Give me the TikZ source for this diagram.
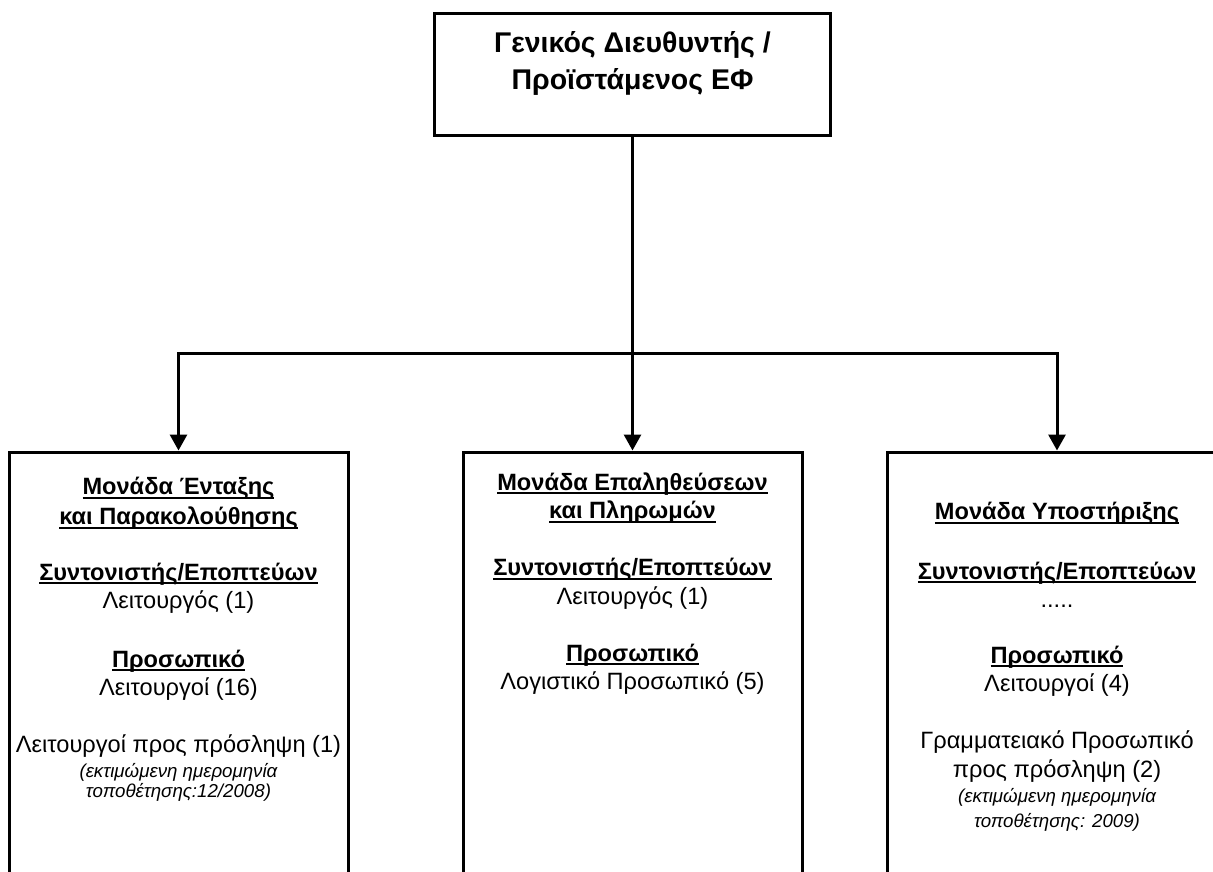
\documentclass[tikz,border=0pt]{standalone}
\usepackage{fontspec}
\setmainfont{Liberation Sans}
\usetikzlibrary{arrows.meta}
\newsavebox\hdbox
% bold heading with a solid underline below the baseline
\newcommand\hd[1]{\sbox\hdbox{\bfseries #1}\leavevmode\rlap{\rule[-4pt]{\wd\hdbox}{2pt}}\usebox\hdbox}
\newcommand\note[1]{{\fontsize{18.7}{22}\selectfont\itshape #1}}
\begin{document}
\begin{tikzpicture}[x=1pt,y=-1pt,
  unitbox/.style={draw,line width=3pt,inner sep=0pt,minimum width=339pt,minimum height=448pt},
  conn/.style={line width=3pt},
  arr/.style={conn,-{Triangle[width=17pt,length=16pt]}},
  body/.style={align=center,inner sep=0pt,anchor=north,font=\fontsize{23.6}{28.5}\selectfont},
  head/.style={align=center,inner sep=0pt,font=\bfseries\fontsize{28.5}{37}\selectfont}]
\useasboundingbox (0,0) rectangle (1213,872);
\clip (0,0) rectangle (1213,872);

% director box
\node[draw,line width=3pt,minimum width=396pt,minimum height=122pt] (dir) at (632.5,75) {};
\node[head] (dirtext) at (632.5,63) {Γενικός Διευθυντής /\\Προϊστάμενος ΕΦ};

% unit boxes (they run past the lower edge)
\node[unitbox] (left)  at (178.5,676) {};
\node[unitbox] (mid)   at (632.5,676) {};
\node[unitbox,minimum width=340pt] (right) at (1057,676) {};

% branch connectors
\coordinate (jm) at (632.5,353);
\draw[arr] (dir.south) -- (mid.north);
\draw[arr] (jm) -| (left.north);
\draw[arr] (jm) -| (right.north);

% unit contents
\node[body] (lefttext) at (178.5,477) {%
  \hd{Μονάδα Ένταξης}\\[1.5pt]
  \hd{και Παρακολούθησης}\\[27pt]
  \hd{Συντονιστής/Εποπτεύων}\\
  Λειτουργός (1)\\[30pt]
  \hd{Προσωπικό}\\
  Λειτουργοί (16)\\[28pt]
  Λειτουργοί προς πρόσληψη (1)\\[-3.5pt]
  \note{(εκτιμώμενη ημερομηνία}\\[-8pt]
  \note{τοποθέτησης:12/2008)}};

\node[body] (midtext) at (632.5,472.5) {%
  \hd{Μονάδα Επαληθεύσεων}\\
  \hd{και Πληρωμών}\\[28.5pt]
  \hd{Συντονιστής/Εποπτεύων}\\
  Λειτουργός (1)\\[28.5pt]
  \hd{Προσωπικό}\\
  Λογιστικό Προσωπικό (5)};

\node[body] (righttext) at (1057,502) {%
  \hd{Μονάδα Υποστήριξης}\\[31pt]
  \hd{Συντονιστής/Εποπτεύων}\\
  .....\\[27pt]
  \hd{Προσωπικό}\\
  Λειτουργοί (4)\\[28.5pt]
  Γραμματειακό Προσωπικό\\
  προς πρόσληψη (2)\\[-3pt]
  \note{(εκτιμώμενη ημερομηνία}\\[-3.5pt]
  \note{τοποθέτησης: 2009)}};
\end{tikzpicture}
\end{document}
